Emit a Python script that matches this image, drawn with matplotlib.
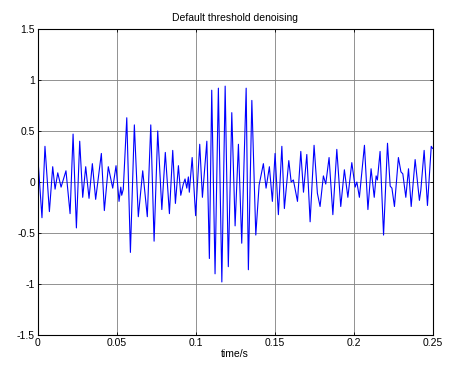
import matplotlib
matplotlib.use("Agg")
import matplotlib.pyplot as plt
from matplotlib.ticker import FormatStrFormatter, FuncFormatter

plt.rcParams['font.family'] = ['Liberation Sans', 'DejaVu Sans']

# denoised signal, peaks and troughs
t = [0.0, 0.0027, 0.0046, 0.0074, 0.0095, 0.011, 0.0127, 0.0148, 0.0179, 0.0205,
     0.0224, 0.0245, 0.0266, 0.0285, 0.0304, 0.0325, 0.0346, 0.0367, 0.0403, 0.0422,
     0.0447, 0.0475, 0.0496, 0.0515, 0.0526, 0.0532, 0.0542, 0.0564, 0.0587, 0.0612,
     0.0637, 0.0665, 0.0694, 0.0716, 0.0737, 0.076, 0.0786, 0.0808, 0.0834, 0.0855,
     0.0872, 0.0891, 0.0906, 0.0922, 0.0933, 0.0944, 0.0954, 0.096, 0.0978, 0.1,
     0.1026, 0.1043, 0.1071, 0.1087, 0.1102, 0.1123, 0.1144, 0.1166, 0.1187, 0.1207,
     0.1229, 0.125, 0.1271, 0.1292, 0.132, 0.1334, 0.1356, 0.1381, 0.1402, 0.1429,
     0.1446, 0.1467, 0.1486, 0.1503, 0.1524, 0.1546, 0.1562, 0.159, 0.1605, 0.1619,
     0.1645, 0.1666, 0.1683, 0.1704, 0.1725, 0.175, 0.1771, 0.1788, 0.1809, 0.1824,
     0.1845, 0.1869, 0.1894, 0.1919, 0.1942, 0.1964, 0.1989, 0.201, 0.2021, 0.2037,
     0.2069, 0.2091, 0.2111, 0.2131, 0.2143, 0.2151, 0.2168, 0.219, 0.2215, 0.2232,
     0.2243, 0.2259, 0.2284, 0.23, 0.2312, 0.2331, 0.2348, 0.2365, 0.239, 0.2417,
     0.2426, 0.2447, 0.2468, 0.2492, 0.25]
sig = [0.26, -0.35, 0.35, -0.29, 0.15, -0.07, 0.09, -0.05, 0.11, -0.31,
       0.47, -0.45, 0.40, -0.15, 0.15, -0.16, 0.18, -0.17, 0.28, -0.28,
       0.15, -0.06, 0.16, -0.19, -0.05, -0.13, -0.07, 0.63, -0.69, 0.56,
       -0.34, 0.11, -0.34, 0.56, -0.58, 0.5, -0.27, 0.29, -0.31, 0.31,
       -0.21, 0.16, -0.13, -0.02, 0.03, -0.06, 0.05, -0.1, 0.24, -0.33,
       0.37, -0.15, 0.40, -0.75, 0.90, -0.90, 0.92, -0.98, 0.94, -0.83,
       0.68, -0.43, 0.37, -0.60, 0.92, -0.86, 0.8, -0.52, -0.03, 0.18,
       -0.06, 0.15, -0.19, 0.28, -0.32, 0.35, -0.26, 0.21, 0.0, 0.02,
       -0.19, 0.30, -0.1, 0.27, -0.39, 0.36, -0.11, -0.24, 0.06, -0.02,
       0.24, -0.32, 0.32, -0.24, 0.12, -0.15, 0.19, -0.05, 0.0, -0.15,
       0.36, -0.27, 0.13, -0.15, 0.06, 0.02, 0.30, -0.52, 0.38, -0.04,
       -0.06, -0.24, 0.24, 0.10, 0.08, -0.15, 0.13, -0.24, 0.22, -0.18,
       -0.08, 0.31, -0.23, 0.35, 0.33]

xticks = [0, 0.05, 0.1, 0.15, 0.2, 0.25]
yticks = [-1.5, -1, -0.5, 0, 0.5, 1, 1.5]

fig = plt.figure(figsize=(4.51, 3.71), dpi=100)
ax = fig.add_axes([0.0836, 0.097, 0.8754, 0.8248])
ax.plot(t, sig, color=(0, 0, 1), linewidth=0.8)

ax.set_xlim(0, 0.25)
ax.set_ylim(-1.5, 1.5)
ax.set_xticks(xticks)
ax.set_yticks(yticks)
fmt = FuncFormatter(lambda v, p: "%g" % v)
ax.xaxis.set_major_formatter(fmt)
ax.yaxis.set_major_formatter(fmt)
ax.tick_params(direction='in', length=2.5, width=0.6, labelsize=7.5,
               top=True, right=True, pad=2)
ax.grid(True, color='#808080', linewidth=0.6)
for s in ax.spines.values():
    s.set_linewidth(0.8)

ax.set_title("Default threshold denoising", fontsize=7.5, pad=6)
ax.set_xlabel("time/s", fontsize=7.5, labelpad=1)

fig.savefig("out.png", dpi=100)
